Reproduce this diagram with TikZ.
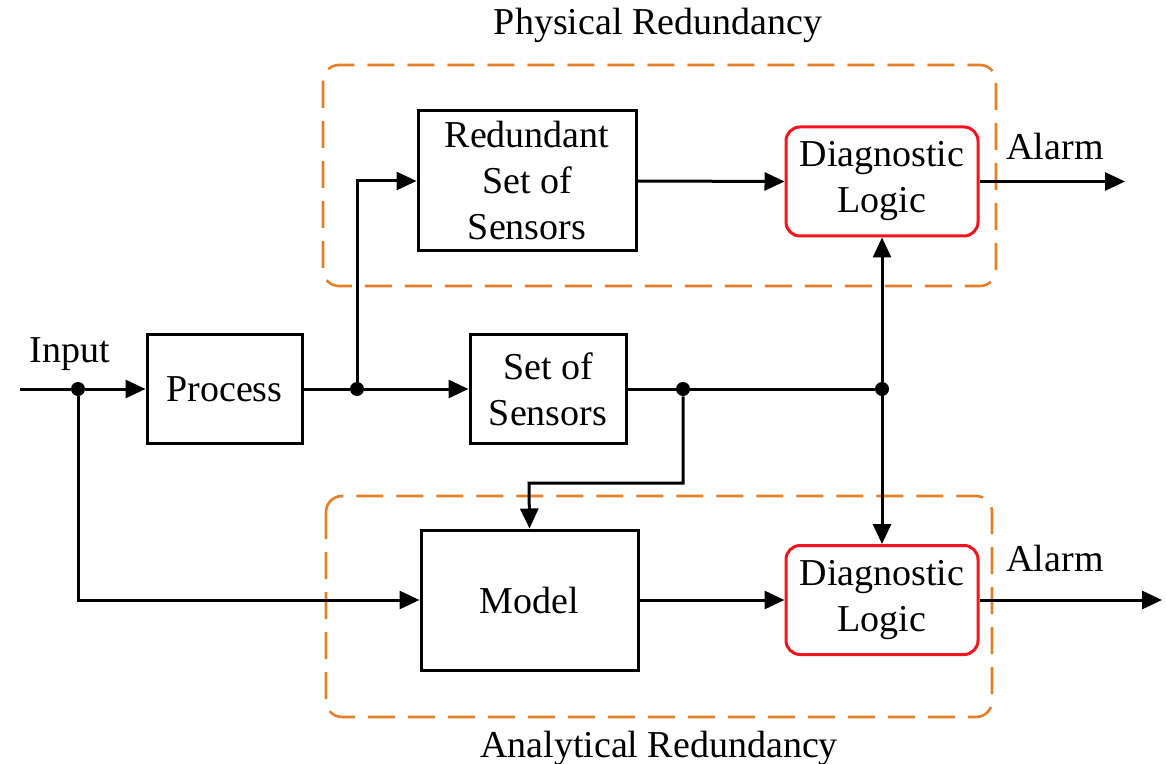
\documentclass[tikz,border=0pt]{standalone}
\usepackage{fontspec}
\setmainfont{Liberation Serif}
\usetikzlibrary{arrows.meta}
\definecolor{grporange}{RGB}{230,126,40}
\definecolor{diagred}{RGB}{245,20,30}
\tikzset{
  blk/.style={draw=black, line width=1.5pt, align=center, inner sep=0pt,
    font=\fontsize{19}{23}\selectfont},
  diagbox/.style={blk, draw=diagred, rounded corners=7pt, minimum width=96pt, minimum height=54.5pt},
  grp/.style={draw=grporange, line width=1.3pt, dash pattern=on 13.5pt off 6.5pt, rounded corners=8pt},
  conn/.style={line width=1.5pt, draw=black},
  arr/.style={conn, -{Triangle[length=10pt,width=9pt]}},
  lbl/.style={anchor=base, inner sep=0pt, font=\fontsize{19}{23}\selectfont},
  junction/.style={circle, fill=black, inner sep=0pt, minimum size=7pt}
}
\begin{document}
\begin{tikzpicture}[x=0.5pt, y=-0.5pt]
\useasboundingbox (0,0) rectangle (1166,764);
% group frames
\draw[grp] (323,65) rectangle (996,286);
\draw[grp] (326,496) rectangle (992,717);
\node[lbl] (physlbl) at (658,35) {Physical Redundancy};
\node[lbl] (analbl) at (659,757) {Analytical Redundancy};
% blocks
\node[blk, minimum width=77.5pt, minimum height=54pt] (proc) at (224.5,389) {Process};
\node[blk, minimum width=109pt, minimum height=70pt] (red) at (527,181) {Redundant\\Set of\\Sensors};
\node[blk, minimum width=78pt, minimum height=54pt] (sos) at (548,389) {Set of\\Sensors};
\node[blk, minimum width=108.5pt, minimum height=70pt] (model) at (529.5,600) {Model};
\node[diagbox] (diag1) at (882,181.5) {Diagnostic\\Logic};
\node[diagbox] (diag2) at (882,600) {Diagnostic\\Logic};
% junctions and free ends
\coordinate (in) at (20,389);
\node[junction] (j1) at (78,389) {};
\node[junction] (j2) at (357,389) {};
\node[junction] (j3) at (683,389) {};
\node[junction] (j4) at (882,389) {};
\coordinate (bend) at (529,483);
\coordinate (out1) at (1125,181.5);
\coordinate (out2) at (1162,600);
% labels
\node[lbl] (inlbl) at (70,363) {Input};
\node[lbl] (al1) at (1055,160) {Alarm};
\node[lbl] (al2) at (1055,571) {Alarm};
% connectors
\draw[conn] (in) -- (j1);
\draw[arr] (j1) -- (proc.west);
\draw[conn] (proc.east) -- (j2);
\draw[arr] (j2) |- (red.west);
\draw[arr] (j2) -- (sos.west);
\draw[conn] (sos.east) -- (j4);
\draw[arr] (j3) |- (bend) -- (model.north);
\draw[arr] (j4) -- (diag1.south);
\draw[arr] (j4) -- (diag2.north);
\draw[arr] (red.east) -- (diag1.west);
\draw[arr] (model.east) -- (diag2.west);
\draw[arr] (diag1.east) -- (out1);
\draw[arr] (diag2.east) -- (out2);
\draw[arr] (j1) |- (model.west);
\end{tikzpicture}
\end{document}
